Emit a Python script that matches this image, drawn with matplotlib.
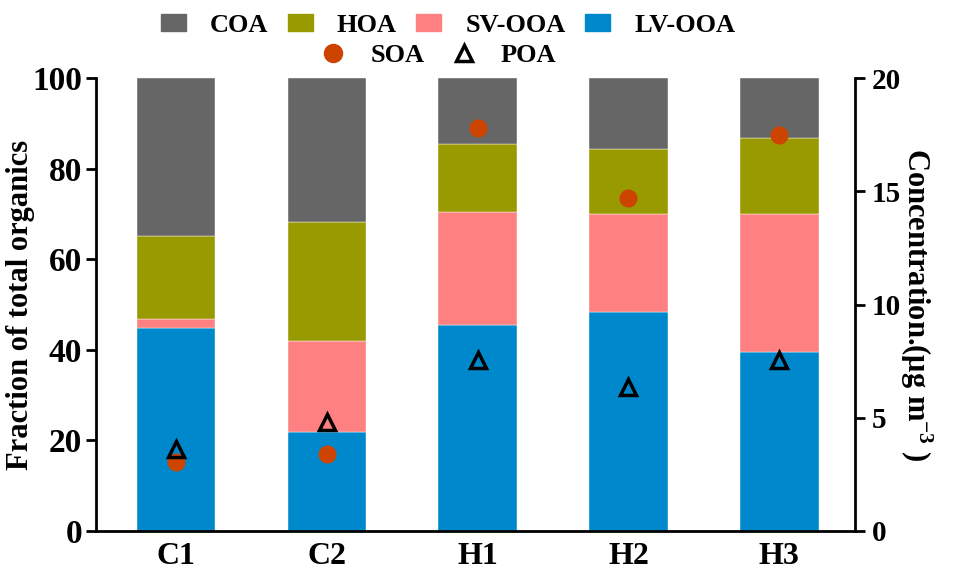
import matplotlib.pyplot as plt
from matplotlib.lines import Line2D
from matplotlib.patches import Patch
import numpy as np

plt.rcParams['font.family'] = ['Liberation Serif', 'DejaVu Serif']
plt.rcParams['font.weight'] = 'bold'
plt.rcParams['axes.labelweight'] = 'bold'
plt.rcParams['mathtext.fontset'] = 'custom'
plt.rcParams['mathtext.rm'] = 'Liberation Serif:bold'
plt.rcParams['mathtext.it'] = 'Liberation Serif:bold'
plt.rcParams['mathtext.bf'] = 'Liberation Serif:bold'

sites = ['C1', 'C2', 'H1', 'H2', 'H3']

# fractions of total organics (%), stacked bottom to top
lv_ooa = [44.8, 21.9, 45.5, 48.3, 39.5]
sv_ooa = [2.0, 20.0, 24.9, 21.7, 30.5]
hoa = [18.3, 26.3, 15.0, 14.3, 16.8]
coa = [34.9, 31.8, 14.6, 15.7, 13.2]

# concentrations (ug m-3)
soa = [3.05, 3.4, 17.8, 14.7, 17.5]
poa = [3.6, 4.8, 7.55, 6.35, 7.55]

colors = {'COA': '#666666', 'HOA': '#999900', 'SV-OOA': '#FF8080', 'LV-OOA': '#0088CC'}

fig = plt.figure(figsize=(9.55, 5.74), dpi=100)
ax = fig.add_axes([0.1005, 0.075, 0.7945, 0.789])

x = np.arange(len(sites))
w = 0.52
bottom = np.zeros(len(sites))
for name, vals in [('LV-OOA', lv_ooa), ('SV-OOA', sv_ooa), ('HOA', hoa), ('COA', coa)]:
    ax.bar(x, vals, w, bottom=bottom, color=colors[name], edgecolor='white', linewidth=0.3)
    bottom += np.array(vals)

ax.set_xlim(-0.53, 4.5)
ax.set_ylim(0, 100)
ax.set_yticks([0, 20, 40, 60, 80, 100])
ax.set_xticks(x)
ax.set_xticklabels(sites)
ax.tick_params(axis='x', length=0, labelsize=23, pad=8)
ax.tick_params(axis='y', labelsize=24, width=2, length=7, pad=3)
ax.set_ylabel('Fraction of total organics', fontsize=22)
ax.yaxis.set_label_coords(-0.08, 0.5)
for s in ['top', 'right']:
    ax.spines[s].set_visible(False)
ax.spines['left'].set_linewidth(2)
ax.spines['bottom'].set_linewidth(2)

ax2 = ax.twinx()
ax2.set_ylim(0, 20)
ax2.set_yticks([0, 5, 10, 15, 20])
ax2.tick_params(axis='y', labelsize=21, width=2, length=7, pad=5)
ax2.spines['right'].set_linewidth(2)
for s in ['top', 'left', 'bottom']:
    ax2.spines[s].set_visible(False)
ax2.plot(x, soa, 'o', color='#CC4400', markersize=12, linestyle='none')
ax2.plot(x, poa, '^', markerfacecolor='none', markeredgecolor='black',
         markeredgewidth=2.5, markersize=12, linestyle='none')
ax2.set_ylabel('Concentration.(μg m$^{-3}$ )', fontsize=22, rotation=270, labelpad=24)

bar_handles = [Patch(color=colors[k]) for k in ['COA', 'HOA', 'SV-OOA', 'LV-OOA']]
fig.legend(bar_handles, ['COA', 'HOA', 'SV-OOA', 'LV-OOA'], ncol=4, frameon=False,
           loc='center', bbox_to_anchor=(0.469, 0.956), fontsize=19,
           handlelength=0.95, handleheight=0.65, columnspacing=0.75, handletextpad=0.9,
           borderpad=0.1)
mk_handles = [Line2D([], [], marker='o', color='#CC4400', markersize=13, linestyle='none'),
              Line2D([], [], marker='^', markerfacecolor='none', markeredgecolor='black',
                     markeredgewidth=2.5, markersize=11, linestyle='none')]
fig.legend(mk_handles, ['SOA', 'POA'], ncol=2, frameon=False, loc='center',
           bbox_to_anchor=(0.459, 0.904), fontsize=19, columnspacing=1.0, handletextpad=0.9,
           handlelength=1.0, borderpad=0.1)

fig.savefig('out.png', dpi=100)
